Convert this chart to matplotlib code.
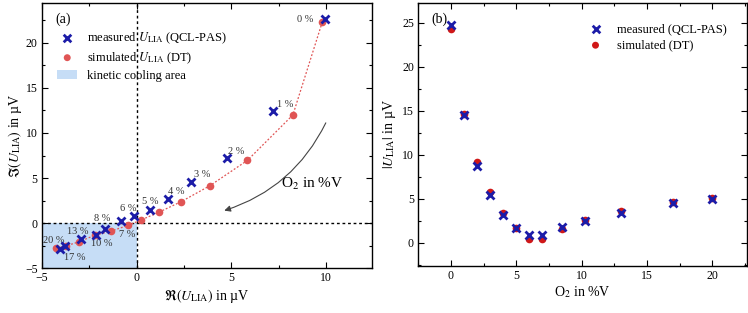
import matplotlib
matplotlib.use('Agg')
from matplotlib import pyplot as plt
from matplotlib.patches import Patch, FancyArrowPatch, Rectangle
from matplotlib.ticker import MultipleLocator

plt.rcParams['font.family'] = ['Liberation Serif', 'DejaVu Serif']
plt.rcParams['mathtext.fontset'] = 'stix'

# O2 concentration labels and positions (%V)
o2_labels = ['0 %', '1 %', '2 %', '3 %', '4 %', '5 %', '6 %', '7 %', '8 %', '10 %', '13 %', '17 %', '20 %']
o2_x = [0, 1, 2, 3, 4, 5, 6, 7, 8.5, 10.25, 13, 17, 20]

# (a) complex amplitude, real / imaginary part in uV
meas_re = [9.95, 7.21, 4.74, 2.89, 1.66, 0.69, -0.14, -0.85, -1.66, -2.17, -2.93, -3.76, -4.04]
meas_im = [22.6, 12.4, 7.2, 4.6, 2.66, 1.46, 0.84, 0.22, -0.61, -1.27, -1.78, -2.58, -2.9]
sim_re = [9.79, 8.24, 5.84, 3.86, 2.36, 1.16, 0.25, -0.46, -1.38, -2.22, -3.05, -3.72, -4.25]
sim_im = [22.3, 12.0, 6.96, 4.15, 2.4, 1.2, 0.37, -0.25, -0.9, -1.35, -2.08, -2.51, -2.8]

# (b) magnitude in uV
meas_abs = [24.7, 14.45, 8.67, 5.44, 3.16, 1.64, 0.88, 0.88, 1.75, 2.5, 3.35, 4.5, 5.0]
sim_abs = [24.3, 14.67, 9.12, 5.75, 3.42, 1.64, 0.38, 0.42, 1.6, 2.55, 3.65, 4.6, 5.06]

# label offsets in pixels (relative to measured point)
lbl_off = [(-20, 0), (12, 7), (10, 7), (11, 7), (8, 8), (0, 8), (-6, 7),
           (7, -13), (-3, 10), (6, -9), (-3, 8), (9, -11), (-6, 9)]

blue = '#1c1ca8'
red_a = '#e05555'
red_b = '#d01818'

fig = plt.figure(figsize=(7.48, 3.13), dpi=100)
ax1 = fig.add_axes([0.056, 0.143, 0.441, 0.847])
ax2 = fig.add_axes([0.559, 0.151, 0.439, 0.839])

# ---- (a)
ax1.add_patch(Rectangle((-5, -5), 5, 5, facecolor='#c6ddf6', edgecolor='none', zorder=0))
ax1.axhline(0, color='k', ls=(0, (2, 2)), lw=1, zorder=1)
ax1.axvline(0, color='k', ls=(0, (2, 2)), lw=1, zorder=1)
ax1.plot(sim_re, sim_im, ls=(0, (1.5, 1.5)), color=red_a, lw=0.9, zorder=2)
ax1.plot(sim_re, sim_im, 'o', color=red_a, ms=5.5, mec='none', zorder=3)
ax1.plot(meas_re, meas_im, 'x', color=blue, ms=5.5, mew=2, zorder=4)
for i in range(len(o2_labels)):
    ax1.annotate(o2_labels[i], (meas_re[i], meas_im[i]), xytext=lbl_off[i],
                 textcoords='offset pixels', ha='center', va='center',
                 fontsize=7.5, color='#333333')

arr = FancyArrowPatch((10.04, 11.4), (4.48, 1.3), connectionstyle='arc3,rad=-0.22',
                      arrowstyle='-|>', mutation_scale=9, color='#444444', lw=0.8)
ax1.add_patch(arr)
ax1.text(7.6, 4.3, 'O$_2$ in %V', fontsize=11, ha='left', va='center')

ax1.set_xlim(-5, 12.4)
ax1.set_ylim(-5, 24.4)
ax1.xaxis.set_major_locator(MultipleLocator(5))
ax1.xaxis.set_minor_locator(MultipleLocator(2.5))
ax1.yaxis.set_major_locator(MultipleLocator(5))
ax1.yaxis.set_minor_locator(MultipleLocator(2.5))
ax1.set_xlabel(r'$\Re(U_\mathrm{LIA})$ in µV', fontsize=10, labelpad=2)
ax1.set_ylabel(r'$\Im(U_\mathrm{LIA})$ in µV', fontsize=10, labelpad=1)
ax1.text(0.04, 0.965, '(a)', transform=ax1.transAxes, fontsize=10, va='top')

h1 = ax1.scatter([], [], marker='x', color=blue, s=30, linewidths=2)
h2 = ax1.scatter([], [], marker='o', color=red_a, s=25, edgecolors='none')
h3 = Patch(facecolor='#c6ddf6', edgecolor='none')
ax1.legend([h1, h2, h3], [r'measured $U_\mathrm{LIA}$ (QCL-PAS)', r'simulated $U_\mathrm{LIA}$ (DT)',
                          'kinetic cooling area'],
           loc='upper left', bbox_to_anchor=(0.02, 0.93), frameon=False, fontsize=9,
           handlelength=1.6, handletextpad=0.8, labelspacing=0.35, borderaxespad=0.3)

# ---- (b)
ax2.plot(o2_x, sim_abs, 'o', color=red_b, ms=5.5, mec='none', zorder=3)
ax2.plot(o2_x, meas_abs, 'x', color=blue, ms=5.5, mew=2, zorder=4)
ax2.set_xlim(-2.5, 22.6)
ax2.set_ylim(-2.6, 27.2)
ax2.xaxis.set_major_locator(MultipleLocator(5))
ax2.xaxis.set_minor_locator(MultipleLocator(2.5))
ax2.yaxis.set_major_locator(MultipleLocator(5))
ax2.yaxis.set_minor_locator(MultipleLocator(2.5))
ax2.set_xlabel('O$_2$ in %V', fontsize=10, labelpad=2)
ax2.set_ylabel(r'$|U_\mathrm{LIA}|$ in µV', fontsize=10, labelpad=3)
ax2.text(0.04, 0.965, '(b)', transform=ax2.transAxes, fontsize=10, va='top')
g1 = ax2.scatter([], [], marker='x', color=blue, s=30, linewidths=2)
g2 = ax2.scatter([], [], marker='o', color=red_b, s=25, edgecolors='none')
ax2.legend([g1, g2], ['measured (QCL-PAS)', 'simulated (DT)'], loc='upper right',
           frameon=False, fontsize=9, handlelength=1.8, handletextpad=0.8,
           labelspacing=0.35, borderaxespad=1.2)

for ax in (ax1, ax2):
    ax.tick_params(which='both', direction='in', top=True, right=True, labelsize=8.5, pad=3)
    ax.tick_params(which='major', length=4, width=0.8)
    ax.tick_params(which='minor', length=2, width=0.8)
    for s in ax.spines.values():
        s.set_linewidth(1.0)

plt.savefig('out.png', dpi=100)
